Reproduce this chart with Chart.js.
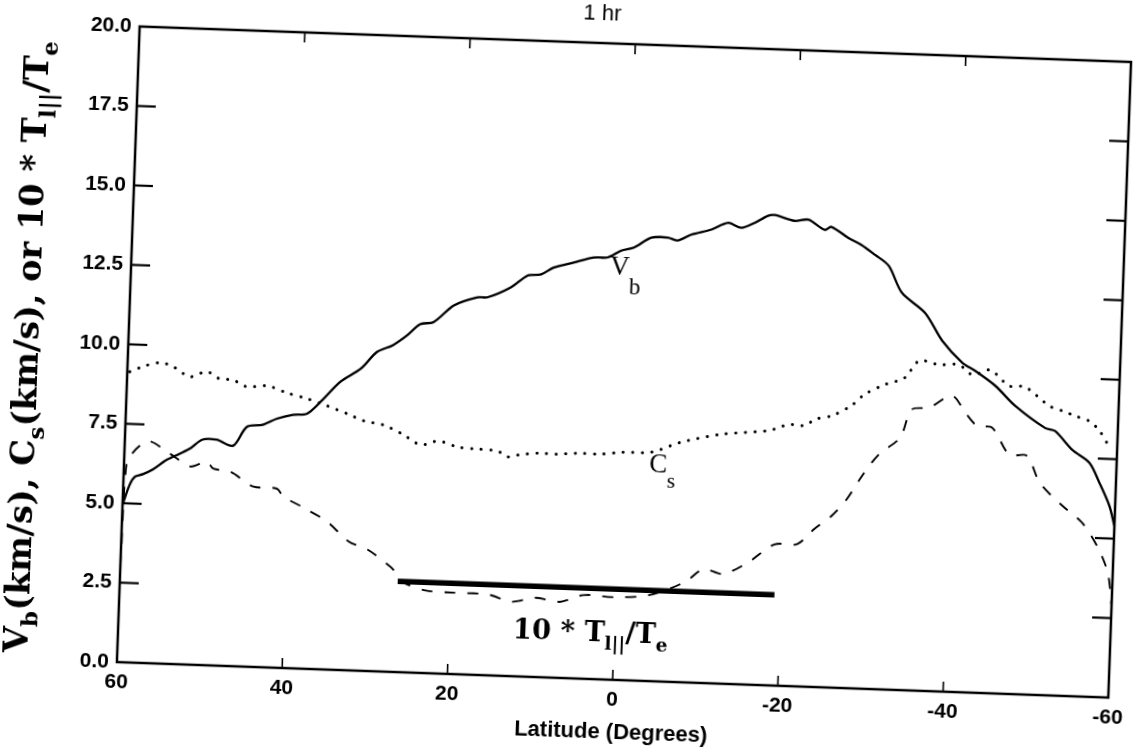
<!DOCTYPE html>
<html><head><meta charset="utf-8">
<script src="https://cdn.jsdelivr.net/npm/chart.js@4.4.1/dist/chart.umd.min.js"></script>
<style>
html,body{margin:0;padding:0;background:#fff;overflow:hidden;}
#wrap{position:relative;width:1133px;height:751px;overflow:hidden;background:#fff;}
#c{position:absolute;left:0;top:0;transform:rotate(2.05deg);transform-origin:623px 361px;}
</style></head><body>
<div id="wrap"><canvas id="c" width="1160" height="751"></canvas></div>
<script>
// ---- data ----
const vbLat = [60, 59.2, 58.6, 57.7, 56.5, 54.8, 53.3, 52.1, 50.6, 48.9, 46.9, 45.3, 43.4, 41.7, 39.8, 38.1, 36.5, 34.2, 31.8, 29.9,
  28.0, 26.3, 24.8, 23.2, 20.8, 18.0, 16.8, 14.0, 12.0, 10.4, 8.9, 6.5, 4.1, 2.4, 0.8, -0.7, -2.8, -4.8, -6.0, -7.6,
  -10.0, -12.0, -13.6, -15.2, -16.8, -17.6, -20.0, -21.7, -23.7, -24.5, -26.6, -28.2, -29.9, -31.6, -33.3, -36.2, -38.4, -40.9, -42.5, -45.0,
  -47.5, -51.2, -52.4, -54.6, -56.7, -58.0, -59.3, -60];
const vbVal = [4.96, 5.6, 5.85, 5.93, 6.09, 6.42, 6.62, 6.79, 7.09, 7.10, 6.93, 7.54, 7.62, 7.83, 7.97, 8.02, 8.41, 9.06, 9.49, 10.04,
  10.27, 10.6, 10.96, 11.04, 11.59, 11.87, 11.88, 12.22, 12.61, 12.66, 12.89, 13.07, 13.25, 13.27, 13.50, 13.61, 13.94, 13.96, 13.88, 14.08,
  14.26, 14.49, 14.35, 14.52, 14.76, 14.79, 14.63, 14.68, 14.38, 14.48, 14.15, 13.95, 13.65, 13.32, 12.49, 11.88, 11.02, 10.36, 10.12, 9.67,
  9.06, 8.40, 8.32, 7.74, 7.36, 6.74, 6.03, 5.4];

const csLat = [59.7, 58.2, 56.1, 54.5, 52.4, 50.4, 48.8, 47.2, 45.5, 43.0, 40.6, 38.1, 35.7, 33.2, 31.2, 28.8, 26.5, 24.2, 22.1, 19.7,
  17.3, 14.9, 13.6, 12.4, 10.0, 7.8, 5.4, 2.4, 0.0, -3.7, -7.2, -12.1, -17.8, -20.2, -22.2, -23.3, -25.4, -27.7, -29.2, -31.6,
  -34.0, -35.7, -38.1, -40.5, -42.2, -44.3, -46.7, -48.6, -51.6, -53.2, -54.8, -56.5, -57.7, -58.9];
const csVal = [9.14, 9.31, 9.46, 9.35, 9.05, 9.23, 9.02, 9.0, 8.8, 8.85, 8.65, 8.49, 8.29, 8.06, 7.86, 7.75, 7.49, 7.17, 7.31, 7.14,
  7.10, 7.06, 6.89, 6.96, 7.04, 7.03, 7.08, 7.08, 7.16, 7.2, 7.54, 7.84, 8.01, 8.22, 8.21, 8.41, 8.55, 8.89, 9.25, 9.58,
  9.82, 10.37, 10.27, 10.29, 9.99, 10.16, 9.68, 9.67, 9.10, 8.96, 8.81, 8.67, 8.40, 7.94];

const teLat = [60, 59.7, 57.3, 54.5, 52.0, 50.0, 49.2, 47.1, 44.3, 41.4, 40.6, 38.3, 35.2, 32.5, 30.2, 27.7, 27.0, 25.9, 23.0, 19.6,
  15.4, 12.6, 9.7, 6.7, 3.9, 0.2, -4.0, -8.3, -10.5, -12.9, -15.9, -19.0, -21.7, -23.7, -25.8, -27.5, -29.3, -31.2, -33.7, -35.0,
  -37.1, -39.8, -41.5, -43.0, -44.8, -47.0, -49.1, -50.8, -53.6, -56.1, -58.1, -59.4, -60];
const teVal = [3.0, 6.22, 6.97, 6.61, 6.23, 6.40, 6.19, 6.11, 5.67, 5.63, 5.39, 5.09, 4.65, 4.05, 3.82, 3.37, 3.22, 2.85, 2.6, 2.56,
  2.54, 2.34, 2.49, 2.39, 2.63, 2.60, 2.7, 3.15, 3.58, 3.45, 3.85, 4.44, 4.47, 4.96, 5.41, 5.93, 6.70, 7.38, 7.93, 8.83,
  8.91, 9.31, 8.79, 8.39, 8.35, 7.52, 7.51, 6.67, 5.98, 5.46, 4.70, 3.92, 2.9];

const barLat = [26.4, -19.2];
const barVal = [2.85, 2.85];

const xTickValues = [60, 40, 20, 0, -20, -40, -60];
const xTickLabels = ['60', '40', '20', '0', '-20', '-40', '-60'];
const yTickValues = [0, 2.5, 5, 7.5, 10, 12.5, 15, 17.5, 20];
const yTickLabels = ['0.0', '2.5', '5.0', '7.5', '10.0', '12.5', '15.0', '17.5', '20.0'];

const chartTitle = '1 hr';
const xTitle = 'Latitude (Degrees)';
const yTitleParts = [['V', 0], ['b', 1], ['(km/s), C', 0], ['s', 1], ['(km/s), or 10 * T', 0], ['l||', 1], ['/T', 0], ['e', 1]];
const vbLabel = [['V', 0], ['b', 1]];
const csLabel = [['C', 0], ['s', 1]];
const teLabel = [['10 * T', 0], ['l||', 1], ['/T', 0], ['e', 1]];

// ---- helpers ----
const pts = (xs, ys) => xs.map((x, i) => ({ x: x, y: ys[i] }));

function richWidth(ctx, parts, size, family, weight, subScale) {
  let w = 0;
  parts.forEach(p => {
    ctx.font = weight + ' ' + (p[1] ? size * subScale : size) + 'px ' + family;
    w += ctx.measureText(p[0]).width;
  });
  return w;
}
function drawRich(ctx, parts, x, y, align, size, family, weight, subScale, subDy) {
  const w = richWidth(ctx, parts, size, family, weight, subScale);
  let cx = align === 'center' ? x - w / 2 : x;
  ctx.textAlign = 'left';
  ctx.textBaseline = 'alphabetic';
  parts.forEach(p => {
    ctx.font = weight + ' ' + (p[1] ? size * subScale : size) + 'px ' + family;
    ctx.fillText(p[0], cx, y + (p[1] ? subDy : 0));
    cx += ctx.measureText(p[0]).width;
  });
}
function seg(ctx, x1, y1, x2, y2) { ctx.beginPath(); ctx.moveTo(x1, y1); ctx.lineTo(x2, y2); ctx.stroke(); }

const decor = {
  id: 'decor',
  afterDraw(chart) {
    const ctx = chart.ctx, a = chart.chartArea, xs = chart.scales.x, ys = chart.scales.y;
    ctx.save();
    ctx.fillStyle = '#000';
    ctx.strokeStyle = '#000';
    // frame
    ctx.lineWidth = 2.5;
    ctx.strokeRect(a.left, a.top, a.right - a.left, a.bottom - a.top);
    // inward ticks
    ctx.lineWidth = 2.2;
    yTickValues.forEach(v => {
      if (v <= 0 || v >= 20) return;
      const py = ys.getPixelForValue(v);
      seg(ctx, a.left, py, a.left + 19, py);
      seg(ctx, a.right, py, a.right - 19, py);
    });
    ctx.lineWidth = 1.6;
    xTickValues.forEach(v => {
      if (Math.abs(v) >= 60) return;
      const px = xs.getPixelForValue(v);
      seg(ctx, px, a.bottom, px, a.bottom - 10);
      seg(ctx, px, a.top, px, a.top + 10);
    });
    // chart title
    ctx.font = '22px "Liberation Sans", Arial, sans-serif';
    ctx.textAlign = 'center';
    ctx.textBaseline = 'middle';
    ctx.fillText(chartTitle, 590, 15);
    // y-axis title (rotated, rich text with subscripts)
    const fam = '"DejaVu Serif", serif';
    let base = 30;
    const w0 = richWidth(ctx, yTitleParts, base, fam, 'bold', 0.68);
    const ySize = base * 612 / w0;
    ctx.save();
    ctx.translate(38, 368);
    ctx.rotate(-Math.PI / 2);
    drawRich(ctx, yTitleParts, 0, 0, 'center', ySize, fam, 'bold', 0.68, ySize * 0.28);
    ctx.restore();
    // in-plot labels
    const serif = '"Liberation Serif", "Times New Roman", serif';
    drawRich(ctx, vbLabel, xs.getPixelForValue(2.1), ys.getPixelForValue(12.74), 'left', 27, serif, 'normal', 0.85, 19);
    drawRich(ctx, csLabel, xs.getPixelForValue(-3.5), ys.getPixelForValue(6.57), 'left', 27, serif, 'normal', 0.8, 15);
    const w1 = richWidth(ctx, teLabel, 30, fam, 'bold', 0.68);
    const tSize = 30 * 155 / w1;
    drawRich(ctx, teLabel, xs.getPixelForValue(2.9), ys.getPixelForValue(1.2), 'center', tSize, fam, 'bold', 0.68, tSize * 0.28);
    ctx.restore();
  }
};

const tickFont = { family: '"Liberation Sans", Arial, sans-serif', size: 21, weight: 'bold' };

new Chart(document.getElementById('c'), {
  type: 'line',
  data: {
    datasets: [
      { label: 'Vb', data: pts(vbLat, vbVal), borderColor: '#000', borderWidth: 2.3, pointRadius: 0, tension: 0.3, fill: false },
      { label: 'Cs', data: pts(csLat, csVal), borderColor: '#000', borderWidth: 3, borderDash: [0.1, 9.5], borderCapStyle: 'round', pointRadius: 0, tension: 0.3, fill: false },
      { label: '10*Ti/Te', data: pts(teLat, teVal), borderColor: '#000', borderWidth: 1.9, borderDash: [11, 12], pointRadius: 0, tension: 0.3, fill: false },
      { label: 'mean', data: pts(barLat, barVal), borderColor: '#000', borderWidth: 5.5, pointRadius: 0, fill: false }
    ]
  },
  options: {
    responsive: false,
    animation: false,
    devicePixelRatio: 1,
    layout: { padding: { top: 44, right: 40, left: 0, bottom: 0 } },
    plugins: { legend: { display: false }, tooltip: { enabled: false }, title: { display: false } },
    scales: {
      x: {
        type: 'linear', min: -60, max: 60, reverse: true,
        afterBuildTicks: s => { s.ticks = xTickValues.map(v => ({ value: v })); },
        afterFit: s => { s.height = 71; s.paddingLeft = 0; s.paddingRight = 0; },
        grid: { display: false, drawTicks: false },
        border: { display: false },
        ticks: { color: '#000', font: tickFont, padding: 8, maxRotation: 0,
          callback: v => xTickLabels[xTickValues.indexOf(v)] },
        title: { display: true, text: xTitle, color: '#000',
          font: { family: '"Liberation Sans", Arial, sans-serif', size: 22, weight: 'bold' },
          padding: { top: 0, bottom: 5 } }
      },
      y: {
        type: 'linear', min: 0, max: 20,
        afterBuildTicks: s => { s.ticks = yTickValues.map(v => ({ value: v })); },
        afterFit: s => { s.width = 128; },
        grid: { display: false, drawTicks: false },
        border: { display: false },
        ticks: { color: '#000', font: tickFont, padding: 8,
          callback: v => yTickLabels[yTickValues.indexOf(v)] }
      }
    }
  },
  plugins: [decor]
});
</script>
</body></html>
